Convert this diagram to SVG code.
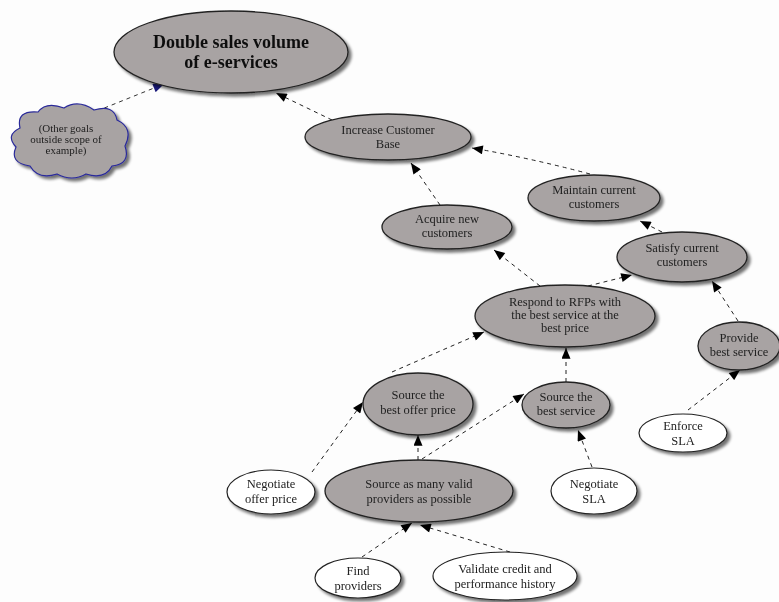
<svg xmlns="http://www.w3.org/2000/svg" width="779" height="602" viewBox="0 0 779 602">
<defs>
<marker id="ah" viewBox="0 0 12 10" refX="12" refY="5" markerWidth="12" markerHeight="9" markerUnits="userSpaceOnUse" orient="auto"><path d="M0,0 L12,5 L0,10 z" fill="#000"/></marker>
<marker id="ahb" viewBox="0 0 12 10" refX="12" refY="5" markerWidth="12" markerHeight="9" markerUnits="userSpaceOnUse" orient="auto"><path d="M0,0 L12,5 L0,10 z" fill="#1a1a7a"/></marker>
<filter id="sh" x="-20%" y="-20%" width="140%" height="140%"><feGaussianBlur in="SourceAlpha" stdDeviation="1.5"/><feOffset dx="3" dy="3"/><feComponentTransfer><feFuncA type="linear" slope="0.55"/></feComponentTransfer><feMerge><feMergeNode/><feMergeNode in="SourceGraphic"/></feMerge></filter>
</defs>
<style>
.g{fill:#a8a3a3;stroke:#222;stroke-width:1.3}
.w{fill:#fff;stroke:#222;stroke-width:1.2}
text{font-family:"Liberation Serif","DejaVu Serif",serif;font-size:12.5px;fill:#222;text-anchor:middle}
.t{font-size:18px;font-weight:bold;fill:#111}
.s{font-size:11px}
.c{fill:none;stroke:#222;stroke-width:1;stroke-dasharray:4,4;marker-end:url(#ah)}
</style>
<rect width="779" height="602" fill="#fdfdfd"/>
<g id="connectors">
<path class="c" style="stroke:#333;marker-end:url(#ahb)" d="M82,117 L164,84"/>
<path class="c" d="M332,120 L276,93"/>
<path class="c" d="M440,205 L411,163"/>
<path class="c" d="M590,174 Q530,158 472,148"/>
<path class="c" d="M662,232 L640,221"/>
<path class="c" d="M540,286 L494,250"/>
<path class="c" d="M588,286 L632,275"/>
<path class="c" d="M738,321 L712,281"/>
<path class="c" d="M392,372 L484,332"/>
<path class="c" d="M566,382 L566,348"/>
<path class="c" d="M312,472 L363,402"/>
<path class="c" d="M418,460 L418,435"/>
<path class="c" d="M422,459 L524,394"/>
<path class="c" d="M592,467 L578,430"/>
<path class="c" d="M688,410 L740,370"/>
<path class="c" d="M362,557 L412,523"/>
<path class="c" d="M510,552 L420,525"/>
</g>
<g id="n-double" filter="url(#sh)"><ellipse class="g" cx="231" cy="52" rx="117" ry="41"/><text class="t" x="231" y="48">Double sales volume</text><text class="t" x="231" y="68">of e-services</text></g>
<g id="n-other" filter="url(#sh)"><path d="M20,128 Q16,110 38,112 Q46,101 64,108 Q78,99 94,110 Q114,104 117,120 Q134,128 125,146 Q131,164 112,166 Q105,180 86,174 Q72,182 57,174 Q38,180 30,166 Q9,163 16,147 Q5,135 20,128 z" fill="#a8a3a3" stroke="#2a2a9a" stroke-width="1.2"/><text class="s" x="66" y="132">(Other goals</text><text class="s" x="66" y="143">outside scope of</text><text class="s" x="66" y="154">example)</text></g>
<g id="n-increase" filter="url(#sh)"><ellipse class="g" cx="388" cy="137" rx="83" ry="23"/><text x="388" y="134">Increase Customer</text><text x="388" y="148">Base</text></g>
<g id="n-maintain" filter="url(#sh)"><ellipse class="g" cx="594" cy="198" rx="66" ry="23"/><text x="594" y="194">Maintain current</text><text x="594" y="208">customers</text></g>
<g id="n-acquire" filter="url(#sh)"><ellipse class="g" cx="447" cy="227" rx="65" ry="22"/><text x="447" y="223">Acquire new</text><text x="447" y="237">customers</text></g>
<g id="n-satisfy" filter="url(#sh)"><ellipse class="g" cx="682" cy="257" rx="65" ry="25"/><text x="682" y="252">Satisfy current</text><text x="682" y="266">customers</text></g>
<g id="n-respond" filter="url(#sh)"><ellipse class="g" cx="565" cy="316" rx="90" ry="31"/><text x="565" y="306">Respond to RFPs  with</text><text x="565" y="319">the best service at the</text><text x="565" y="332">best price</text></g>
<g id="n-provide" filter="url(#sh)"><ellipse class="g" cx="739" cy="346" rx="41" ry="24"/><text x="739" y="342">Provide</text><text x="739" y="356">best service</text></g>
<g id="n-offer" filter="url(#sh)"><ellipse class="g" cx="418" cy="404" rx="55" ry="31"/><text x="418" y="399">Source the</text><text x="418" y="414">best offer price</text></g>
<g id="n-service" filter="url(#sh)"><ellipse class="g" cx="566" cy="405" rx="44" ry="23"/><text x="566" y="401">Source the</text><text x="566" y="415">best service</text></g>
<g id="n-enforce" filter="url(#sh)"><ellipse class="w" cx="683" cy="433" rx="44" ry="19"/><text x="683" y="430">Enforce</text><text x="683" y="445">SLA</text></g>
<g id="n-negoffer" filter="url(#sh)"><ellipse class="w" cx="271" cy="492" rx="44" ry="22"/><text x="271" y="488">Negotiate</text><text x="271" y="503">offer price</text></g>
<g id="n-many" filter="url(#sh)"><ellipse class="g" cx="419" cy="491" rx="94" ry="31"/><text x="419" y="488">Source as many valid</text><text x="419" y="503">providers as possible</text></g>
<g id="n-negsla" filter="url(#sh)"><ellipse class="w" cx="594" cy="491" rx="43" ry="23"/><text x="594" y="488">Negotiate</text><text x="594" y="503">SLA</text></g>
<g id="n-find" filter="url(#sh)"><ellipse class="w" cx="358" cy="578" rx="43" ry="20"/><text x="358" y="575">Find</text><text x="358" y="590">providers</text></g>
<g id="n-validate" filter="url(#sh)"><ellipse class="w" cx="505" cy="576" rx="72" ry="24"/><text x="505" y="573">Validate credit and</text><text x="505" y="588">performance history</text></g>
</svg>
